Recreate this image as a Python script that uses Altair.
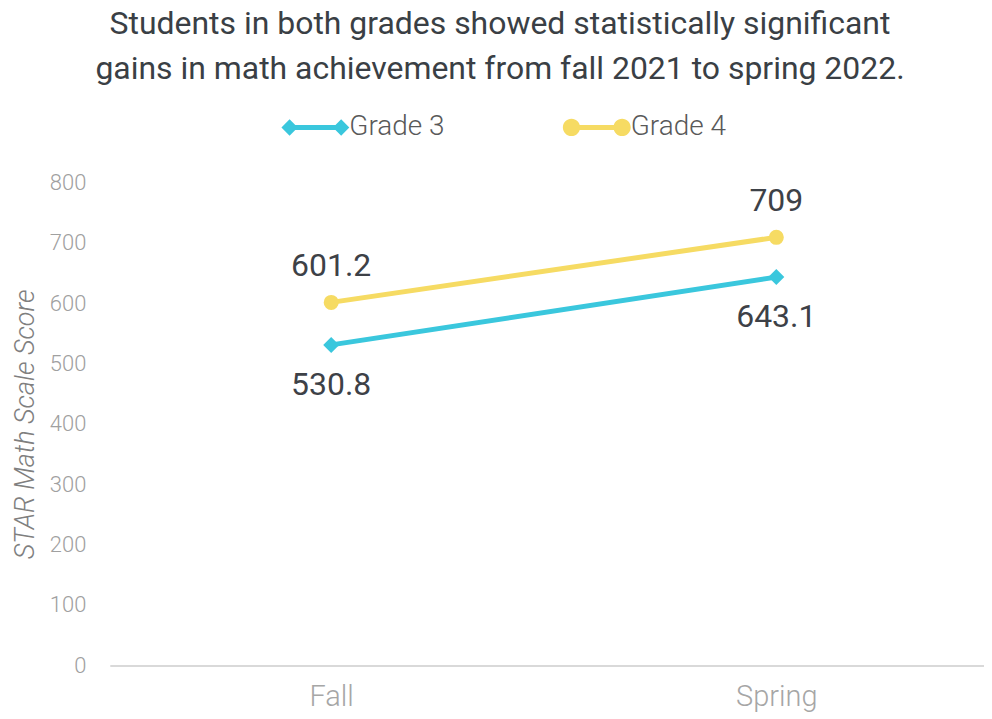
import altair as alt
import pandas as pd

seasons = ["Fall", "Spring"]
grades = ["Grade 3", "Grade 4"]
grade3 = [530.8, 643.1]
grade4 = [601.2, 709.0]
colors = ["#3AC7DD", "#F6DB63"]
y_ticks = [0, 100, 200, 300, 400, 500, 600, 700, 800]

rows = []
for g, vals in zip(grades, [grade3, grade4]):
    for s, v in zip(seasons, vals):
        rows.append({"season": s, "grade": g, "score": v, "label": f"{v:g}"})
df = pd.DataFrame(rows)

# legend symbols: line with a marker at each end
path3 = ("M-1,0L-0.76,-0.24L-0.52,0L-0.76,0.24Z "
         "M0.52,0L0.76,-0.24L1,0L0.76,0.24Z "
         "M-0.76,-0.075L0.76,-0.075L0.76,0.075L-0.76,0.075Z")
path4 = ("M-1,0A0.254,0.254,0,1,1,-0.492,0A0.254,0.254,0,1,1,-1,0Z "
         "M0.492,0A0.254,0.254,0,1,1,1,0A0.254,0.254,0,1,1,0.492,0Z "
         "M-0.746,-0.075L0.746,-0.075L0.746,0.075L-0.746,0.075Z")

x_enc = alt.X("season:N", sort=seasons,
              scale=alt.Scale(type="point", padding=0.482, align=0.516),
              axis=alt.Axis(title=None, labelAngle=0, labelFontSize=29, labelFont="Roboto",
                            labelFontWeight=300, labelColor="#a6a6a6", labelPadding=17,
                            ticks=False, tickSize=0, domainColor="#d9d9d9", domainWidth=2,
                            grid=False))
y_enc = alt.Y("score:Q", scale=alt.Scale(domain=[0, 800], nice=False),
              axis=alt.Axis(title="STAR Math Scale Score", values=y_ticks, grid=False,
                            domain=False, ticks=False, tickSize=0, labelFontSize=22,
                            labelFont="Roboto", labelFontWeight=300, labelColor="#a0a0a0",
                            labelPadding=24, titleFont="Roboto", titleFontSize=27,
                            titleFontWeight=300, titleFontStyle="italic",
                            titleColor="#7f7f7f", titlePadding=10))

base = alt.Chart(df)
g3 = base.transform_filter(alt.datum.grade == grades[0])
g4 = base.transform_filter(alt.datum.grade == grades[1])

line3 = g3.mark_line(strokeWidth=5, color=colors[0]).encode(x=x_enc, y=y_enc)
line4 = g4.mark_line(strokeWidth=5, color=colors[1]).encode(x=x_enc, y=y_enc)
pts3 = g3.mark_point(shape="diamond", filled=True, size=256, opacity=1,
                     color=colors[0]).encode(x=x_enc, y=y_enc)
pts4 = g4.mark_point(shape="circle", filled=True, size=227, opacity=1,
                     color=colors[1]).encode(x=x_enc, y=y_enc)

txt_style = dict(fontSize=32, font="Roboto", color="#3d4147", align="center",
                 baseline="alphabetic")
txt3 = g3.mark_text(dy=50, **txt_style).encode(x=x_enc, y=y_enc, text="label:N")
txt4 = g4.mark_text(dy=-26, **txt_style).encode(x=x_enc, y=y_enc, text="label:N")

leg = dict(title=None, orient="none", legendX=172, legendY=-89, direction="horizontal",
           labelFont="Roboto", labelFontSize=28, labelFontWeight=300, labelColor="#595959",
           labelOffset=0, columnPadding=118, symbolOpacity=1, symbolStrokeWidth=0,
           symbolSize=4624)
# legend-only layer: no rows pass the filter, entries come from the scale domain
legend_layer = base.transform_filter(alt.datum.score < 0).mark_point(
    filled=True, opacity=1, size=4624).encode(
    x=x_enc, y=y_enc,
    color=alt.Color("grade:N", scale=alt.Scale(domain=grades, range=colors),
                    legend=alt.Legend(**leg)),
    shape=alt.Shape("grade:N", scale=alt.Scale(domain=grades, range=[path3, path4]),
                    legend=alt.Legend(**leg)))

chart = alt.layer(line3, line4, pts3, pts4, txt3, txt4, legend_layer).properties(
    width=876, height=484,
    title=alt.TitleParams(
        text=["Students in both grades showed statistically significant",
              "gains in math achievement from fall 2021 to spring 2022."],
        font="Roboto", fontSize=32, fontWeight=400, color="#3a3f45", lineHeight=45,
        anchor="middle", dx=-47, offset=8),
    autosize=alt.AutoSizeParams(type="none"),
    padding={"left": 102, "top": 174, "right": 0, "bottom": 52},
).configure_view(stroke=None)

chart.save("out.html", embed_options={"renderer": "svg", "actions": False})
